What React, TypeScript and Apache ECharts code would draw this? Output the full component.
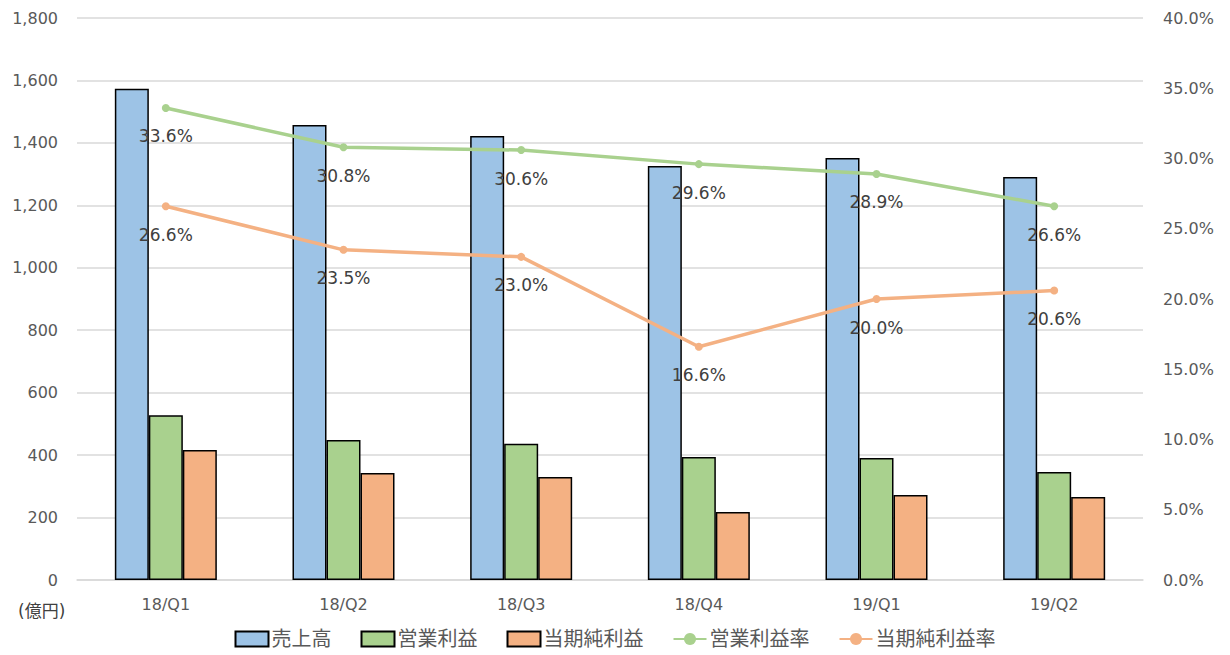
import React, { useEffect, useRef } from "react";
import * as echarts from "echarts";

const categories = ["18/Q1", "18/Q2", "18/Q3", "18/Q4", "19/Q1", "19/Q2"];
const sales = [1573, 1457, 1422, 1326, 1352, 1291];
const operatingProfit = [528, 448, 436, 394, 391, 346];
const netProfit = [416, 343, 330, 218, 272, 266];
const operatingMargin = [33.6, 30.8, 30.6, 29.6, 28.9, 26.6];
const netMargin = [26.6, 23.5, 23.0, 16.6, 20.0, 20.6];

const FONT = "'DejaVu Sans', 'Noto Sans CJK JP', sans-serif";

export default function App() {
  const ref = useRef<HTMLDivElement>(null);
  useEffect(() => {
    const chart = echarts.init(ref.current!, null, { renderer: "svg" });
    const barStyle = (c: string) => ({ color: c, borderColor: "#000", borderWidth: 1.5 });
    const lineLabel = {
      show: true,
      position: "bottom",
      distance: 16,
      formatter: (p: any) => p.value.toFixed(1) + "%",
      color: "#404040",
      fontSize: 17,
      fontFamily: FONT,
    };
    chart.setOption({
      animation: false,
      textStyle: { fontFamily: FONT },
      grid: { left: 77, right: 87, top: 18, bottom: 75 },
      legend: {
        bottom: 1,
        left: "center",
        itemGap: 29,
        itemWidth: 33,
        itemHeight: 15,
        textStyle: { fontSize: 20, color: "#595959", fontFamily: FONT, padding: [0, 0, 0, -2] },
        data: [
          { name: "売上高", icon: "rect" },
          { name: "営業利益", icon: "rect" },
          { name: "当期純利益", icon: "rect" },
          { name: "営業利益率" },
          { name: "当期純利益率" },
        ],
      },
      xAxis: {
        type: "category",
        data: categories,
        axisTick: { show: false },
        axisLine: { lineStyle: { color: "#d9d9d9", width: 1.5 } },
        axisLabel: { color: "#595959", fontSize: 16, margin: 16, fontFamily: FONT },
      },
      yAxis: [
        {
          type: "value",
          min: 0,
          max: 1800,
          interval: 200,
          axisLabel: {
            color: "#595959",
            fontSize: 16,
            margin: 19,
            fontFamily: FONT,
            formatter: (v: number) => v.toLocaleString("en-US"),
          },
          splitLine: { lineStyle: { color: "#d9d9d9", width: 1.5 } },
          axisLine: { show: false },
          axisTick: { show: false },
        },
        {
          type: "value",
          min: 0,
          max: 40,
          interval: 5,
          axisLabel: {
            color: "#595959",
            fontSize: 16,
            margin: 20,
            fontFamily: FONT,
            formatter: (v: number) => v.toFixed(1) + "%",
          },
          splitLine: { show: false },
          axisLine: { show: false },
          axisTick: { show: false },
        },
      ],
      graphic: [
        {
          type: "text",
          left: 18,
          top: 602,
          style: { text: "(億円)", fill: "#404040", fontSize: 17, fontFamily: FONT },
        },
      ],
      series: [
        {
          name: "売上高",
          type: "bar",
          data: sales,
          barWidth: 34,
          barGap: "0%",
          itemStyle: barStyle("#9dc3e6"),
        },
        {
          name: "営業利益",
          type: "bar",
          data: operatingProfit,
          barWidth: 34,
          itemStyle: barStyle("#a9d18e"),
        },
        {
          name: "当期純利益",
          type: "bar",
          data: netProfit,
          barWidth: 34,
          itemStyle: barStyle("#f4b183"),
        },
        {
          name: "営業利益率",
          type: "line",
          yAxisIndex: 1,
          data: operatingMargin,
          symbol: "circle",
          symbolSize: 8,
          lineStyle: { color: "#a9d18e", width: 3.5 },
          itemStyle: { color: "#a9d18e" },
          label: lineLabel,
          z: 5,
        },
        {
          name: "当期純利益率",
          type: "line",
          yAxisIndex: 1,
          data: netMargin,
          symbol: "circle",
          symbolSize: 8,
          lineStyle: { color: "#f4b183", width: 3.5 },
          itemStyle: { color: "#f4b183" },
          label: lineLabel,
          z: 5,
        },
      ],
    });
    return () => chart.dispose();
  }, []);
  return (
    <div
      ref={ref}
      style={{ position: "absolute", left: 0, top: 0, width: 1230, height: 655 }}
    />
  );
}
